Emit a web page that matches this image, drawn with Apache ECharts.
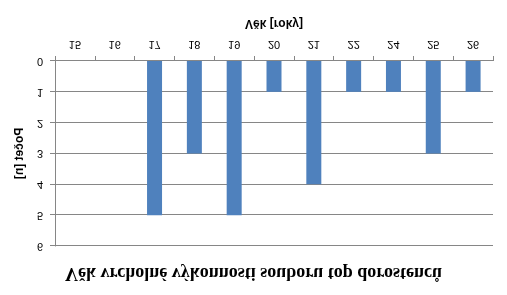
<!DOCTYPE html>
<html>
<head>
<meta charset="utf-8">
<script src="https://cdn.jsdelivr.net/npm/echarts@6/dist/echarts.min.js"></script>
<style>
html,body{margin:0;padding:0;background:#fff;}
#c{width:507px;height:295px;transform:scaleY(-1);}
</style>
</head>
<body>
<div id="c"></div>
<script>
const titleText = 'Věk vrcholné výkonnosti souboru top dorostenců';
const xName = 'Věk [roky]';
const yName = 'Počet [n]';
const categories = ['15','16','17','18','19','20','21','22','24','25','26'];
const counts = [0,0,5,3,5,1,4,1,1,3,1];
const yTicks = [0,1,2,3,4,5,6];

const chart = echarts.init(document.getElementById('c'), null, {renderer:'canvas'});
chart.setOption({
  animation:false,
  backgroundColor:'#ffffff',
  title:{
    text:titleText,
    left:'center',
    top:8,
    textStyle:{fontFamily:'Liberation Serif',fontWeight:'bold',fontSize:18,color:'#000'}
  },
  grid:{left:55,right:14,top:49,bottom:61},
  xAxis:{
    type:'category',
    data:categories,
    name:xName,
    nameLocation:'middle',
    nameGap:32,
    nameTextStyle:{fontFamily:'Liberation Sans',fontWeight:'bold',fontSize:12,color:'#000'},
    axisLine:{lineStyle:{color:'#868686',width:1}},
    axisTick:{show:true,length:5,lineStyle:{color:'#868686'}},
    axisLabel:{fontFamily:'Liberation Sans',fontSize:11,color:'#000',margin:11}
  },
  yAxis:{
    type:'value',
    min:yTicks[0],
    max:yTicks[yTicks.length-1],
    interval:1,
    name:yName,
    nameLocation:'middle',
    nameGap:28,
    nameTextStyle:{fontFamily:'Liberation Sans',fontWeight:'bold',fontSize:12,color:'#000'},
    axisLine:{show:true,lineStyle:{color:'#868686',width:1}},
    axisTick:{show:true,length:5,lineStyle:{color:'#868686'}},
    axisLabel:{fontFamily:'Liberation Sans',fontSize:11,color:'#000',margin:12},
    splitLine:{show:true,lineStyle:{color:'#868686',width:1}}
  },
  series:[{
    type:'bar',
    data:counts,
    barWidth:15,
    itemStyle:{color:'#4F81BD'}
  }]
});
</script>
</body>
</html>
